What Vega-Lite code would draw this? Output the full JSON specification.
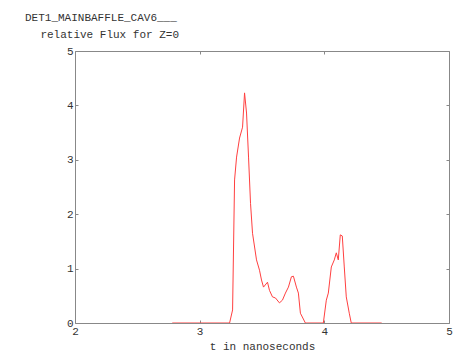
{
  "$schema": "https://vega.github.io/schema/vega-lite/v6.json",
  "width": 374,
  "height": 272,
  "autosize": "none",
  "padding": {"left": 75, "top": 51, "right": 5, "bottom": 30},
  "background": "white",
  "title": {
    "text": ["DET1_MAINBAFFLE_CAV6___", "\u200b\u00a0\u00a0\u2009relative Flux for Z=0"],
    "anchor": "start",
    "frame": "group",
    "dx": -50,
    "offset": 5,
    "font": "Liberation Mono",
    "fontSize": 11,
    "fontWeight": "normal",
    "lineHeight": 17,
    "color": "#333333"
  },
  "config": {
    "view": {"stroke": null},
    "axis": {
      "domainColor": "#888888",
      "domainWidth": 1,
      "tickColor": "#888888",
      "tickSize": -3,
      "grid": false,
      "labelFont": "Liberation Mono",
      "labelFontSize": 11,
      "labelColor": "#333333",
      "titleFont": "Liberation Mono",
      "titleFontSize": 11,
      "titleFontWeight": "normal",
      "titleColor": "#333333"
    }
  },
  "data": {
    "values": [
      {"t": 2.78, "f": 0},
      {"t": 3.24, "f": 0},
      {"t": 3.264, "f": 0.24},
      {"t": 3.28, "f": 2.63},
      {"t": 3.296, "f": 3.05},
      {"t": 3.32, "f": 3.4},
      {"t": 3.344, "f": 3.6},
      {"t": 3.36, "f": 4.23},
      {"t": 3.376, "f": 3.86},
      {"t": 3.392, "f": 3.05},
      {"t": 3.408, "f": 2.2},
      {"t": 3.424, "f": 1.65},
      {"t": 3.456, "f": 1.16},
      {"t": 3.48, "f": 0.97},
      {"t": 3.496, "f": 0.79},
      {"t": 3.512, "f": 0.66},
      {"t": 3.544, "f": 0.75},
      {"t": 3.56, "f": 0.6},
      {"t": 3.584, "f": 0.48},
      {"t": 3.608, "f": 0.46},
      {"t": 3.64, "f": 0.37},
      {"t": 3.664, "f": 0.42},
      {"t": 3.688, "f": 0.55},
      {"t": 3.712, "f": 0.66},
      {"t": 3.736, "f": 0.85},
      {"t": 3.752, "f": 0.86},
      {"t": 3.776, "f": 0.66},
      {"t": 3.792, "f": 0.55},
      {"t": 3.808, "f": 0.18},
      {"t": 3.848, "f": 0},
      {"t": 3.992, "f": 0},
      {"t": 4.016, "f": 0.42},
      {"t": 4.032, "f": 0.55},
      {"t": 4.056, "f": 1.03},
      {"t": 4.08, "f": 1.16},
      {"t": 4.096, "f": 1.29},
      {"t": 4.112, "f": 1.16},
      {"t": 4.128, "f": 1.62},
      {"t": 4.144, "f": 1.6},
      {"t": 4.16, "f": 1.03},
      {"t": 4.176, "f": 0.48},
      {"t": 4.2, "f": 0.18},
      {"t": 4.216, "f": 0},
      {"t": 4.46, "f": 0}
    ]
  },
  "layer": [
    {
      "mark": {"type": "line", "color": "#ff4040", "strokeWidth": 1, "clip": true},
      "encoding": {
        "x": {
          "field": "t", "type": "quantitative",
          "scale": {"domain": [2, 5], "nice": false, "zero": false},
          "axis": {"orient": "bottom", "values": [2, 3, 4, 5], "title": "t in nanoseconds", "labelPadding": 5, "titlePadding": 4, "labelFlush": false}
        },
        "y": {
          "field": "f", "type": "quantitative",
          "scale": {"domain": [0, 5], "nice": false},
          "axis": {"orient": "left", "values": [0, 1, 2, 3, 4, 5], "title": null, "labelPadding": 5, "labelFlush": false}
        }
      }
    },
    {
      "mark": {"type": "line", "strokeOpacity": 0},
      "encoding": {
        "x": {
          "field": "t", "type": "quantitative",
          "axis": {"orient": "top", "values": [2, 3, 4, 5], "labels": false, "title": null}
        },
        "y": {
          "field": "f", "type": "quantitative",
          "axis": {"orient": "right", "values": [0, 1, 2, 3, 4, 5], "labels": false, "title": null}
        }
      }
    }
  ],
  "resolve": {"axis": {"x": "independent", "y": "independent"}}
}
